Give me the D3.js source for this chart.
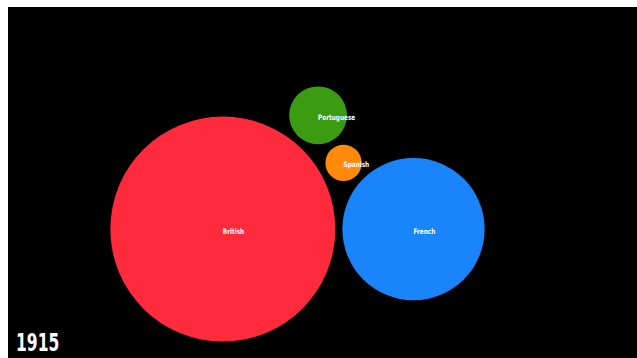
<!DOCTYPE html>
<html>
<head>
<meta charset="utf-8">
<script src="https://cdn.jsdelivr.net/npm/d3@7"></script>
<style>
  html, body { margin: 0; padding: 0; background: #fff; }
</style>
</head>
<body>
<div id="chart"></div>
<script>
// empires and their relative size in 1915
const empires = ["Spanish", "British", "French", "Portuguese"];
const sizes = [2.6, 100, 40, 6.6];
const colors = ["#ff8a0a", "#ff2b3d", "#1a84fa", "#3b9c12"];
const yearLabel = "1915";

const width = 637, height = 358;
const pad = 3.5;
const font = "'Liberation Sans Narrow', 'DejaVu Sans Condensed', 'DejaVu Sans', sans-serif";

const svg = d3.select("#chart").append("svg")
    .attr("width", width)
    .attr("height", height);

// black stage
svg.append("rect")
    .attr("x", 8).attr("y", 7)
    .attr("width", width - 8).attr("height", height - 7)
    .attr("fill", "#000");

const rScale = d3.scaleSqrt()
    .domain([0, d3.max(sizes)])
    .range([0, 112.5]);

let nodes = empires.map(function(name, i){
    return {name: name, value: sizes[i], color: colors[i], r: rScale(sizes[i]) + pad};
});

d3.packSiblings(nodes);

// turn the layout so that British -> French runs left to right
let brit = nodes[1], fr = nodes[2];
let ang = Math.atan2(fr.y - brit.y, fr.x - brit.x);
nodes.forEach(function(d){
    let x = d.x, y = d.y;
    d.x = x * Math.cos(-ang) - y * Math.sin(-ang);
    d.y = x * Math.sin(-ang) + y * Math.cos(-ang);
});
// Spanish should sit above
if(nodes[0].y > brit.y){
    nodes.forEach(function(d){ d.y = -d.y; });
}

let minX = d3.min(nodes, d => d.x - d.r), maxX = d3.max(nodes, d => d.x + d.r);
let minY = d3.min(nodes, d => d.y - d.r), maxY = d3.max(nodes, d => d.y + d.r);
let cx = 297.5, cy = 214;
let x = d3.scaleLinear().domain([minX, maxX]).range([cx - (maxX - minX) / 2, cx + (maxX - minX) / 2]);
let y = d3.scaleLinear().domain([minY, maxY]).range([cy - (maxY - minY) / 2, cy + (maxY - minY) / 2]);

let g = svg.append("g");

g.selectAll("circle")
    .data(nodes)
    .enter()
    .append("circle")
    .attr("cx", d => x(d.x))
    .attr("cy", d => y(d.y))
    .attr("r", d => rScale(d.value))
    .attr("fill", d => d.color);

g.selectAll("text")
    .data(nodes)
    .enter()
    .append("text")
    .attr("transform", d => "translate(" + x(d.x) + "," + (y(d.y) + 4.5) + ") scale(0.85,1)")
    .text(d => d.name)
    .attr("fill", "#fff")
    .style("font-family", font)
    .style("font-weight", "bold")
    .style("font-size", "7.5px");

svg.append("text")
    .attr("transform", "translate(16,351) scale(0.72,1)")
    .text(yearLabel)
    .attr("fill", "#fff")
    .style("font-family", font)
    .style("font-weight", "bold")
    .style("font-size", "24px");
</script>
</body>
</html>
